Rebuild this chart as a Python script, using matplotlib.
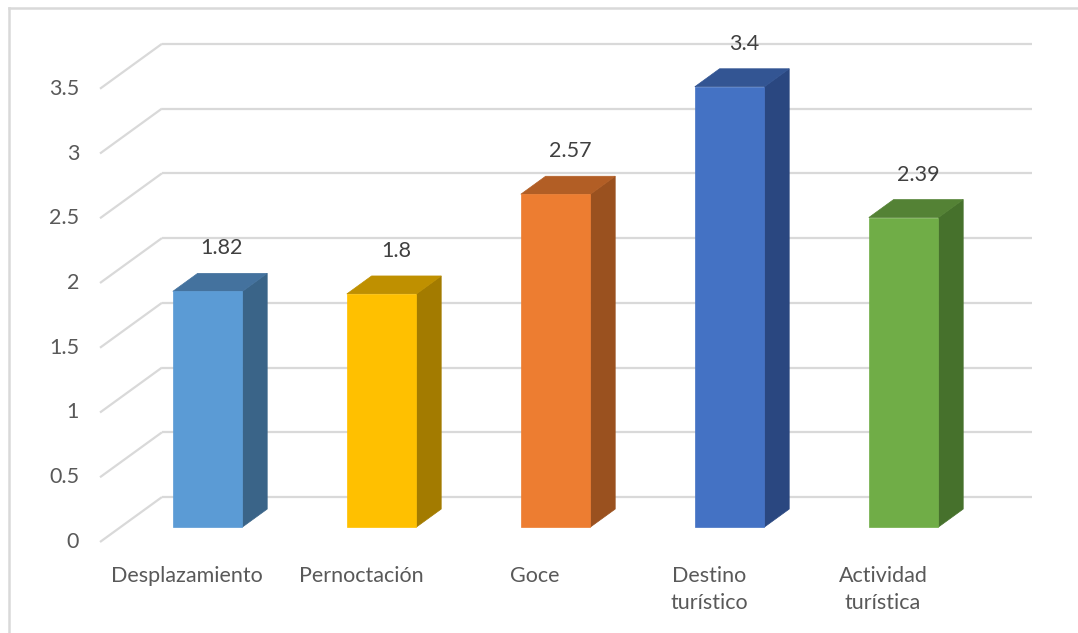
import numpy as np
import matplotlib
matplotlib.use("Agg")
import matplotlib.pyplot as plt
from matplotlib.patches import Polygon
from matplotlib.lines import Line2D

# ---------------- data ----------------
categories = ["Desplazamiento", "Pernoctación", "Goce", "Destino\nturístico", "Actividad\nturística"]
values = [1.82, 1.80, 2.57, 3.40, 2.39]
labels = ["1.82", "1.8", "2.57", "3.4", "2.39"]
yticks = [0, 0.5, 1, 1.5, 2, 2.5, 3, 3.5]

front_colors = ["#5B9BD5", "#FFC000", "#ED7D31", "#4472C4", "#70AD47"]
top_colors = ["#44729E", "#BF9000", "#B25E25", "#335593", "#548235"]
side_colors = ["#3A6488", "#A37B00", "#9A511F", "#2A4780", "#46712C"]

# ---------------- 3d look ----------------
DX, DY = 0.356, 0.347      # shift from front plane to back wall (data units)
D_FRONT, D_BACK = 0.333, 0.733
HALF_W = 0.20
TXT = "#595959"
GRID = "#D9D9D9"
FS = 15.5

plt.rcParams['font.family'] = ['Lato', 'DejaVu Sans']

fig = plt.figure(figsize=(10.78, 6.33), dpi=100)
ax = fig.add_axes([0, 0, 1, 1])
ax.set_xlim(-100 / 174, (1078 - 100) / 174)
ax.set_ylim(-91 / 129.5, (633 - 91) / 129.5)
ax.axis("off")


def proj(x, v, d):
    return (x + d * DX, v + d * DY)


# back wall gridlines + left diagonals
n = len(categories)
for t in yticks:
    x0, y0 = proj(0, t, 1)
    x1, y1 = proj(n, t, 1)
    ax.plot([x0, x1], [y0, y1], color=GRID, lw=1.6, zorder=1, solid_capstyle="butt")
    xf, yf = proj(0, t, 0)
    ax.plot([xf, x0], [yf, y0], color=GRID, lw=1.6, zorder=1, solid_capstyle="butt")
    ax.text(xf - 0.12, yf, f"{t:g}", ha="right", va="center", fontsize=FS, color=TXT)

# bars
for i, (v, fc, tc, sc) in enumerate(zip(values, front_colors, top_colors, side_colors)):
    c = i + 0.5
    xl, xr = c - HALF_W, c + HALF_W
    front = [proj(xl, 0, D_FRONT), proj(xr, 0, D_FRONT), proj(xr, v, D_FRONT), proj(xl, v, D_FRONT)]
    side = [proj(xr, 0, D_FRONT), proj(xr, 0, D_BACK), proj(xr, v, D_BACK), proj(xr, v, D_FRONT)]
    top = [proj(xl, v, D_FRONT), proj(xr, v, D_FRONT), proj(xr, v, D_BACK), proj(xl, v, D_BACK)]
    ax.add_patch(Polygon(side, closed=True, facecolor=sc, edgecolor=sc, lw=0.5, zorder=3))
    ax.add_patch(Polygon(top, closed=True, facecolor=tc, edgecolor=tc, lw=0.5, zorder=3))
    ax.add_patch(Polygon(front, closed=True, facecolor=fc, edgecolor=fc, lw=0.5, zorder=4))

    lx, ly = proj(c, v, D_BACK)
    ax.annotate(labels[i], (lx - 0.06, ly), xytext=(0, 18), textcoords="offset points",
                ha="center", va="center", fontsize=FS, color="#404040", zorder=5)

    cx, cy = proj(c, 0, 0)
    ax.annotate(categories[i], (cx, cy), xytext=(0, -17), textcoords="offset points",
                ha="center", va="top", fontsize=FS, color=TXT, linespacing=1.45)

# chart border (light gray frame)
fig.add_artist(Line2D([8.5 / 1078, 8.5 / 1078], [0, 1 - 7.5 / 633], color="#D9D9D9", lw=1.8,
                      transform=fig.transFigure))
fig.add_artist(Line2D([8.5 / 1078, 1], [1 - 7.5 / 633, 1 - 7.5 / 633], color="#D9D9D9", lw=1.8,
                      transform=fig.transFigure))

fig.savefig("out.png", dpi=100, facecolor="white")
